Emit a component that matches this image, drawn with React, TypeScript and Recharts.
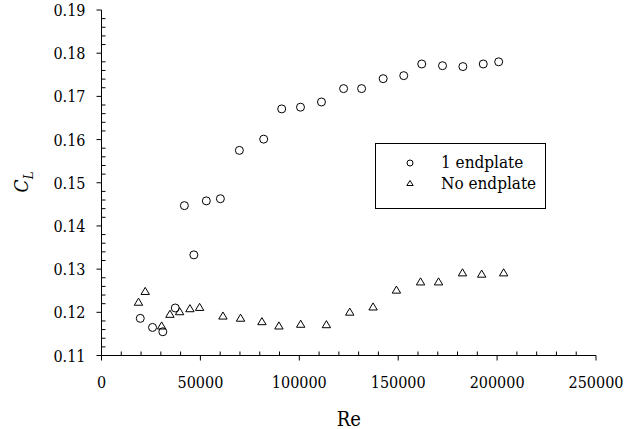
import { ScatterChart, Scatter, XAxis, YAxis, Legend } from 'recharts';

const reOneEndplate = [19600, 25800, 31000, 37300, 41900, 46700, 53000, 60100, 69700, 82000, 91100, 100600, 111200, 122400, 131500, 142400, 152800, 161900, 172400, 182700, 193000, 200800];
const clOneEndplate = [0.1186, 0.1165, 0.1155, 0.121, 0.1447, 0.1333, 0.1458, 0.1463, 0.1575, 0.1601, 0.1671, 0.1675, 0.1687, 0.1718, 0.1718, 0.1741, 0.1748, 0.1775, 0.1771, 0.1769, 0.1775, 0.178];

const reNoEndplate = [18700, 22100, 30400, 34600, 39500, 44700, 49600, 61400, 70300, 81100, 89700, 100700, 113700, 125500, 137300, 149100, 161300, 170400, 182500, 192200, 203300];
const clNoEndplate = [0.1224, 0.1249, 0.1169, 0.1196, 0.1202, 0.1209, 0.1212, 0.1192, 0.1187, 0.1179, 0.1169, 0.1173, 0.1172, 0.1201, 0.1213, 0.1252, 0.1271, 0.1271, 0.1292, 0.1289, 0.1292];

const seriesNames = ['1 endplate', 'No endplate'];

// major ticks get labels, minor ticks are drawn inside
const xMajorTicks = [0, 50000, 100000, 150000, 200000, 250000];
const yMajorTicks = [0.11, 0.12, 0.13, 0.14, 0.15, 0.16, 0.17, 0.18, 0.19];
const xTicks = Array.from({ length: 26 }, (_, i) => i * 10000);
const yTicks = Array.from({ length: 41 }, (_, i) => Math.round((0.11 + i * 0.002) * 1000) / 1000);

// only DejaVu Serif resolves as a serif face here
const font = 'DejaVu Serif Condensed, DejaVu Serif';

const oneData = reOneEndplate.map((re, i) => ({ re, cl: clOneEndplate[i] }));
const noData = reNoEndplate.map((re, i) => ({ re, cl: clNoEndplate[i] }));

const isXMajor = (v: number) => xMajorTicks.includes(v);
const isYMajor = (v: number) => yMajorTicks.some((t) => Math.abs(t - v) < 1e-6);

function BottomTick({ x, y, payload }: any) {
  const major = isXMajor(payload.value);
  return (
    <g>
      <line x1={x} x2={x} y1={y} y2={major ? y + 5 : y - 4} stroke="#000" />
      {major && (
        <text x={x} y={y + 32} textAnchor="middle" fontFamily={font} fontSize={16} fill="#000">
          {payload.value}
        </text>
      )}
    </g>
  );
}

function TopTick({ x, y }: any) {
  return <line x1={x} x2={x} y1={y} y2={y + 4} stroke="#000" />;
}

function LeftTick({ x, y, payload }: any) {
  const major = isYMajor(payload.value);
  return (
    <g>
      <line x1={x} x2={major ? x - 5 : x + 4} y1={y} y2={y} stroke="#000" />
      {major && (
        <text x={x - 16} y={y + 6} textAnchor="end" fontFamily={font} fontSize={16} fill="#000">
          {payload.value.toFixed(2)}
        </text>
      )}
    </g>
  );
}

function RightTick({ x, y }: any) {
  return <line x1={x} x2={x - 4} y1={y} y2={y} stroke="#000" />;
}

function OpenCircle({ cx, cy }: any) {
  return <circle cx={cx} cy={cy} r={4} fill="none" stroke="#000" strokeWidth={1} />;
}

function OpenTriangle({ cx, cy }: any) {
  const pts = `${cx},${cy - 3.8} ${cx - 4.2},${cy + 3.3} ${cx + 4.2},${cy + 3.3}`;
  return <polygon points={pts} fill="none" stroke="#000" strokeWidth={1} />;
}

function LegendBox() {
  return (
    <svg width={171} height={66}>
      <rect x={0.5} y={0.5} width={170} height={65} fill="#fff" stroke="#000" />
      <circle cx={35} cy={20} r={3} fill="none" stroke="#000" />
      <polygon points="35,37.5 31.8,42.5 38.2,42.5" fill="none" stroke="#000" />
      <text x={66} y={25} fontFamily={font} fontSize={17} fill="#000">{seriesNames[0]}</text>
      <text x={66} y={46} fontFamily={font} fontSize={17} fill="#000">{seriesNames[1]}</text>
    </svg>
  );
}

function ReLabel({ viewBox }: any) {
  const cx = viewBox.x + viewBox.width / 2;
  return (
    <text x={cx} y={viewBox.y + 70} textAnchor="middle" fontFamily={font} fontSize={20} fill="#000">
      Re
    </text>
  );
}

function ClLabel() {
  return (
    <text transform="translate(28, 182) rotate(-90)" textAnchor="middle" fontFamily={font} fontSize={19} fill="#000">
      <tspan fontStyle="italic">C</tspan>
      <tspan fontStyle="italic" fontSize={13} dy={5}>L</tspan>
    </text>
  );
}

export default function App() {
  return (
    <div style={{ position: 'absolute', left: 0, top: 0, background: '#fff' }}>
      <ScatterChart width={639} height={429} margin={{ top: 10, right: 43, bottom: 0, left: 0 }}>
        <XAxis
          dataKey="re"
          type="number"
          domain={[0, 250000]}
          ticks={xTicks}
          interval={0}
          allowDataOverflow
          height={73.5}
          tickSize={0}
          tickMargin={0}
          tickLine={false}
          axisLine={{ stroke: '#000' }}
          tick={<BottomTick />}
          label={<ReLabel />}
        />
        <XAxis
          xAxisId="top"
          orientation="top"
          dataKey="re"
          type="number"
          domain={[0, 250000]}
          ticks={xTicks}
          interval={0}
          allowDataOverflow
          height={0}
          tickSize={0}
          tickMargin={0}
          tickLine={false}
          axisLine={{ stroke: '#000' }}
          tick={<TopTick />}
        />
        <YAxis
          dataKey="cl"
          type="number"
          domain={[0.11, 0.19]}
          ticks={yTicks}
          interval={0}
          allowDataOverflow
          width={101.5}
          tickSize={0}
          tickMargin={0}
          tickLine={false}
          axisLine={{ stroke: '#000' }}
          tick={<LeftTick />}
          label={<ClLabel />}
        />
        <YAxis
          yAxisId="right"
          orientation="right"
          dataKey="cl"
          type="number"
          domain={[0.11, 0.19]}
          ticks={yTicks}
          interval={0}
          allowDataOverflow
          width={0}
          tickSize={0}
          tickMargin={0}
          tickLine={false}
          axisLine={{ stroke: '#000' }}
          tick={<RightTick />}
        />
        <Legend
          layout="vertical"
          align="center"
          verticalAlign="middle"
          content={() => <LegendBox />}
          wrapperStyle={{ position: 'absolute', left: 375, top: 143, width: 171, height: 66 }}
        />
        <Scatter name={seriesNames[0]} data={oneData} shape={<OpenCircle />} isAnimationActive={false} />
        <Scatter name={seriesNames[1]} data={noData} shape={<OpenTriangle />} isAnimationActive={false} />
        <Scatter xAxisId="top" yAxisId="right" data={noData} shape={() => null} legendType="none" isAnimationActive={false} />
      </ScatterChart>
    </div>
  );
}
